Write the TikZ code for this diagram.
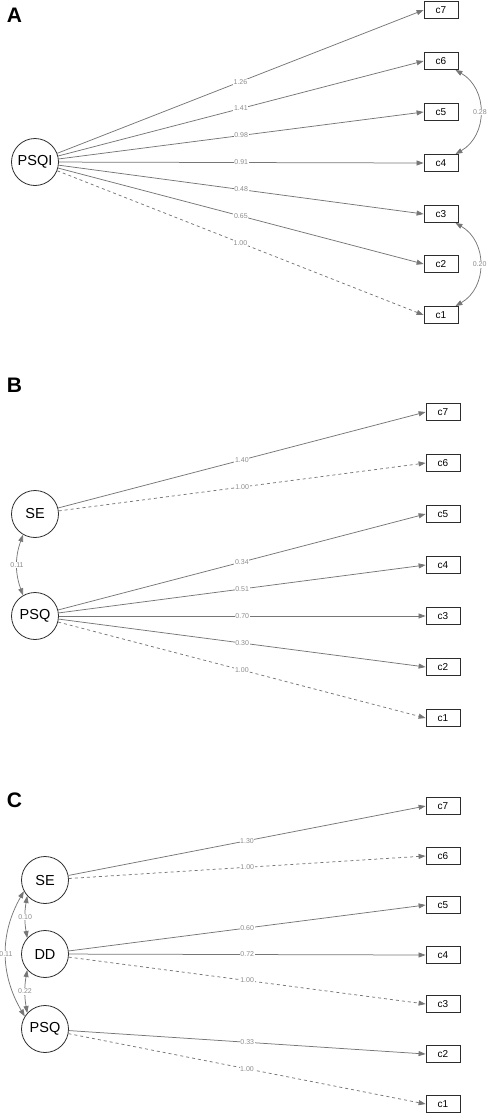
\documentclass[tikz,border=0pt]{standalone}
\usepackage{fontspec}
\setmainfont{Liberation Sans}
\usetikzlibrary{arrows.meta,positioning}
\definecolor{pathgray}{RGB}{118,118,118}
\definecolor{labelgray}{RGB}{140,140,140}
\definecolor{framegray}{RGB}{45,45,45}

\begin{document}
\begin{tikzpicture}[x=1pt,y=-1pt,
    latent/.style={circle,draw=framegray,line width=0.8pt,minimum size=47pt,inner sep=0pt,
      font=\fontsize{14.5}{16}\selectfont},
    manifest/.style={rectangle,draw=framegray,line width=0.8pt,minimum width=34pt,
      minimum height=17pt,inner sep=0pt,font=\fontsize{10}{12}\selectfont},
    load/.style={draw=pathgray,line width=0.75pt,-{Triangle[length=7pt,width=5pt]}},
    fixed/.style={load,dashed},
    covar/.style={draw=pathgray,line width=0.75pt,
      {Triangle[length=7pt,width=5pt]}-{Triangle[length=7pt,width=5pt]}},
    coef/.style={fill=white,text=labelgray,inner sep=0.6pt,font=\fontsize{7}{8}\selectfont},
    panel/.style={font=\bfseries\fontsize{21}{24}\selectfont,inner sep=0pt}]

  \useasboundingbox (0,0) rectangle (489,1114);

  % panel A
  \node[panel] (labA) at (14.5,15) {A};
  \node[latent] (psqiA) at (35,162) {PSQI};
  \foreach \i/\y in {7/10,6/61,5/112,4/163,3/214,2/264,1/315}
    \node[manifest] (cA\i) at (441,\y) {c\i};
  \foreach \i/\v in {7/1.26,6/1.41,5/0.98,4/0.91,3/0.48,2/0.65}
    \draw[load] (psqiA) -- node[coef] {\v} (cA\i.west);
  \draw[fixed] (psqiA) -- node[coef] {1.00} (cA1.west);
  \draw[covar] ([xshift=-3pt]cA6.south east) to[bend left=60,looseness=1.15] node[coef] {0.28} ([xshift=-3pt]cA4.north east);
  \draw[covar] ([xshift=-3pt]cA3.south east) to[bend left=60,looseness=1.15] node[coef] {0.20} ([xshift=-3pt]cA1.north east);

  % panel B
  \node[panel] (labB) at (14.5,385) {B};
  \node[latent] (seB) at (35,514) {SE};
  \node[latent] (psqB) at (35,616) {PSQ};
  \foreach \i/\y in {7/412,6/463,5/514,4/565,3/616,2/667,1/718}
    \node[manifest] (cB\i) at (443,\y) {c\i};
  \draw[load] (seB) -- node[coef] {1.40} (cB7.west);
  \draw[fixed] (seB) -- node[coef] {1.00} (cB6.west);
  \foreach \i/\v in {5/0.34,4/0.51,3/0.70,2/0.30}
    \draw[load] (psqB) -- node[coef] {\v} (cB\i.west);
  \draw[fixed] (psqB) -- node[coef] {1.00} (cB1.west);
  \draw[covar] (seB.240) to[bend right=20] node[coef] {0.11} (psqB.120);

  % panel C
  \node[panel] (labC) at (14.5,800) {C};
  \node[latent] (seC) at (45,880) {SE};
  \node[latent] (ddC) at (45,954) {DD};
  \node[latent] (psqC) at (45,1029) {PSQ};
  \foreach \i/\y in {7/806,6/856,5/905,4/955,3/1004,2/1054,1/1104}
    \node[manifest] (cC\i) at (443,\y) {c\i};
  \draw[load] (seC) -- node[coef] {1.30} (cC7.west);
  \draw[fixed] (seC) -- node[coef] {1.00} (cC6.west);
  \draw[load] (ddC) -- node[coef] {0.60} (cC5.west);
  \draw[load] (ddC) -- node[coef] {0.72} (cC4.west);
  \draw[fixed] (ddC) -- node[coef] {1.00} (cC3.west);
  \draw[load] (psqC) -- node[coef] {0.33} (cC2.west);
  \draw[fixed] (psqC) -- node[coef] {1.00} (cC1.west);
  \draw[covar] (seC.222) to[bend right=10] node[coef] {0.10} (ddC.138);
  \draw[covar] (ddC.222) to[bend right=10] node[coef] {0.22} (psqC.138);
  \draw[covar] (seC.208) to[bend right=30] node[coef] {0.11} (psqC.148);
\end{tikzpicture}
\end{document}
